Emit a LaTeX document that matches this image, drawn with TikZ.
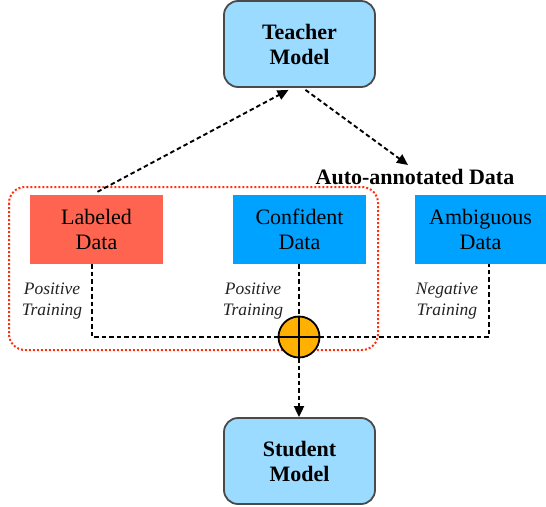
\documentclass[tikz,border=0pt]{standalone}
\usepackage{fontspec}
\setmainfont{Liberation Serif}
\usetikzlibrary{arrows.meta}
\definecolor{modelfill}{HTML}{9ADBFF}
\definecolor{modeldraw}{HTML}{4A4A4A}
\definecolor{labfill}{HTML}{FF6450}
\definecolor{datafill}{HTML}{00A2FF}
\definecolor{sumfill}{HTML}{FFB000}
\definecolor{dotred}{HTML}{FF3010}
\definecolor{labeltext}{HTML}{222222}
\tikzset{
  modelbox/.style={draw=modeldraw, line width=1.8pt, fill=modelfill, rounded corners=14pt,
    minimum width=151pt, minimum height=86pt, align=center, inner sep=0pt,
    font=\bfseries\fontsize{22}{25}\selectfont},
  databox/.style={minimum width=133pt, minimum height=69pt, align=center, inner sep=0pt,
    font=\fontsize{22}{25}\selectfont},
  dashline/.style={line width=1.9pt, dash pattern=on 4.5pt off 3pt},
  arr/.style={dashline, -{Triangle[length=11pt,width=10pt]}},
  trainlabel/.style={align=center, inner sep=0pt, text=labeltext, font=\itshape\fontsize{17.5}{20.5}\selectfont},
  redgroup/.style={draw=dotred, line width=2pt, dash pattern=on 2pt off 2pt, rounded corners=16pt},
  sumnode/.style={circle, draw=black, line width=1.8pt, fill=sumfill, minimum size=41pt, inner sep=0pt}
}
\begin{document}
\begin{tikzpicture}[x=1pt,y=-1pt]
\useasboundingbox (0,0) rectangle (546,506);
% group outline
\draw[redgroup] (9,187) rectangle (378,350);
% models
\node[modelbox] (teacher) at (299.5,44) {Teacher\\Model};
\node[modelbox] (student) at (299.5,461) {Student\\Model};
% data boxes
\node[databox, fill=labfill] (lab) at (96.5,229.5) {Labeled\\Data};
\node[databox, fill=datafill] (conf) at (299.5,229.5) {Confident\\Data};
\node[databox, fill=datafill, minimum width=131pt] (amb) at (480.5,229.5) {Ambiguous\\Data};
% auto-annotated label
\node[inner sep=0pt, font=\bfseries\fontsize{22}{25}\selectfont] (auto) at (415,177) {Auto-annotated Data};
\coordinate (autotip) at (408,165);
% training labels
\node[trainlabel] (pt1) at (52,301) {Positive\\Training};
\node[trainlabel] (pt2) at (253,301) {Positive\\Training};
\node[trainlabel] (nt) at (447,301) {Negative\\Training};
% sum node position
\coordinate (sumc) at (299,337);
\coordinate (labcorner) at (92,337);
\coordinate (ambcorner) at (489,337);
% connectors
\draw[dashline] (lab.south -| labcorner) -- (labcorner) -- (ambcorner) -- (amb.south -| ambcorner);
\draw[dashline] (conf.south -| sumc) -- (sumc);
\node[sumnode] (sum) at (sumc) {};
\draw[line width=1.8pt] (sum.north) -- (sum.south) (sum.west) -- (sum.east);
\draw[arr] (sum.south) -- (student.north -| sum.south);
\draw[arr] ([xshift=1pt,yshift=3pt]lab.north) -- ([xshift=-11pt,yshift=-2pt]teacher.south);
\draw[arr] ([xshift=6pt,yshift=-2pt]teacher.south) -- (autotip);
\end{tikzpicture}
\end{document}
